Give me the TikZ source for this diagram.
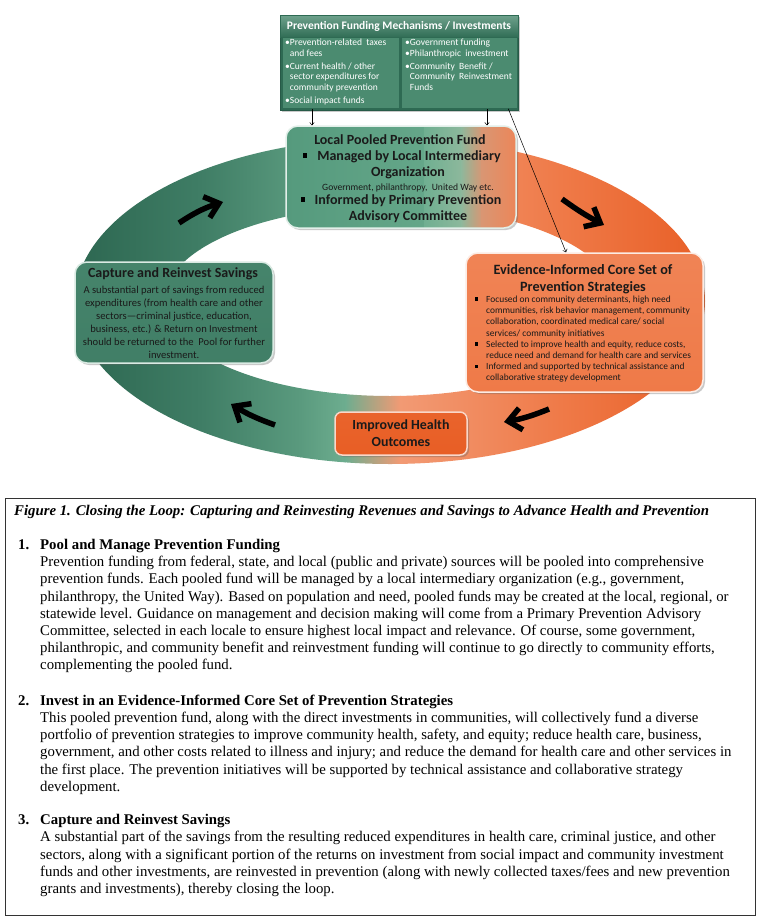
\documentclass[tikz,border=0pt]{standalone}
\usepackage{fontspec}
\setmainfont{Liberation Serif}
\newfontfamily\calib{Carlito}
\usetikzlibrary{arrows.meta,shadows,calc}
\definecolor{gA}{HTML}{2C6650}
\definecolor{gB}{HTML}{3F7D65}
\definecolor{gC}{HTML}{5A9A7E}
\definecolor{gD}{HTML}{6DAD8F}
\definecolor{oA}{HTML}{F29A74}
\definecolor{oB}{HTML}{EF7A48}
\definecolor{oC}{HTML}{E85E25}
\definecolor{pg1}{HTML}{559A7D}
\definecolor{pg2}{HTML}{6FAF91}
\definecolor{pg3}{HTML}{8DB89C}
\definecolor{pg4}{HTML}{D99673}
\definecolor{pg5}{HTML}{EC8659}
\definecolor{topdark}{HTML}{2E6A53}
\definecolor{topcol}{HTML}{4B8B70}
\definecolor{txtdark}{HTML}{1A1A1A}
\newcommand\mkshade[4]{\shade[sharp corners,left color=#3,right color=#4] ($(path picture bounding box.north west)!#1!(path picture bounding box.north east)$) rectangle ($(path picture bounding box.south west)!#2!(path picture bounding box.south east)$);}
\tikzset{
  boxshadow/.style={drop shadow={shadow xshift=2pt,shadow yshift=-2pt,opacity=0.35,fill=black!60}},
  colbox/.style={draw=topdark,line width=0.6pt,fill=topcol,inner sep=0},
  hdrtxt/.style={font=\calib\bfseries\fontsize{11.5}{13}\selectfont,text=white,inner sep=0},
  coltxt/.style={font=\calib\fontsize{9.5}{10.6}\selectfont,text=white,inner sep=0,align=left,anchor=north west},
  pbold/.style={font=\calib\bfseries\fontsize{14}{15}\selectfont,text=txtdark,inner sep=0},
  psmall/.style={font=\calib\fontsize{9.6}{10}\selectfont,text=txtdark,inner sep=0},
  sqbullet/.style={fill=black,minimum size=4.5pt,inner sep=0},
  smbullet/.style={fill=black,minimum size=3.4pt,inner sep=0},
  cbody/.style={font=\calib\fontsize{10.6}{13}\selectfont,text=txtdark,inner sep=0,align=center},
  ebody/.style={font=\calib\fontsize{9.4}{11.2}\selectfont,text=txtdark,inner sep=0,align=left},
  ringarrow/.style={line width=5.5pt,-{Straight Barb[length=13pt,width=22pt]}},
  thinarrow/.style={line width=0.5pt,-{To[length=3pt,width=5pt]}},
  bodyline/.style={anchor=base west,inner sep=0,font=\fontsize{14.8pt}{17.2pt}\selectfont},
  headline/.style={anchor=base west,inner sep=0,font=\bfseries\fontsize{14.8pt}{17.2pt}\selectfont},
}
\begin{document}
\begin{tikzpicture}[x=1pt,y=-1pt]
\useasboundingbox (0,0) rectangle (767,921);
\fill[white] (0,0) rectangle (767,921);

% ---- ring ----
\begin{scope}[even odd rule]
\clip (390,301) ellipse (315pt and 163pt) (390,301) ellipse (226pt and 95pt);
\shade[left color=gA, right color=gB] (70,130) rectangle (200.5,470);
\shade[left color=gB, right color=gC] (200,130) rectangle (300.5,470);
\shade[left color=gC, right color=gD] (300,130) rectangle (345.5,470);
\shade[left color=gD, right color=oA] (345,130) rectangle (400.5,470);
\shade[left color=oA, right color=oB] (400,130) rectangle (560.5,470);
\shade[left color=oB, right color=oC] (560,130) rectangle (710,470);
\end{scope}

% ---- top funding box ----
\node[draw=topdark!85!black,line width=0.8pt,fill=topdark,minimum width=238pt,minimum height=95pt,inner sep=0,boxshadow] (topbox) at (399,62.5) {};
\node[draw=topdark,line width=0.6pt,top color=topcol!80!white,bottom color=topdark!90!topcol,minimum width=238pt,minimum height=22pt,inner sep=0] (hdrbar) at (399,26) {};
\node[hdrtxt] (hdr) at (399,26) {Prevention Funding Mechanisms / Investments};
\node[colbox,minimum width=117pt,minimum height=71pt] (lcol) at (340.5,73) {};
\node[colbox,minimum width=116pt,minimum height=71pt] (rcol) at (459,73) {};
\node[coltxt] (ltxt) at (285,39) {\textbullet Prevention-related\ \ taxes\\\phantom{\textbullet}and fees\\[2.4pt]\textbullet Current health / other\\\phantom{\textbullet}sector expenditures for\\\phantom{\textbullet}community prevention\\[2.4pt]\textbullet Social impact funds};
\node[coltxt] (rtxt) at (405,39) {\textbullet Government funding\\\textbullet Philanthropic\ \ investment\\[2.4pt]\textbullet Community\ \ Benefit /\\\phantom{\textbullet}Community\ \ Reinvestment\\\phantom{\textbullet}Funds};

% ---- pooled fund box ----
\node[draw=white!80!gD,line width=1.5pt,rounded corners=12pt,minimum width=230pt,minimum height=102pt,inner sep=0,boxshadow,
  path picture={\mkshade{0}{0.605}{pg1}{pg2}\mkshade{0.6}{0.765}{pg2}{pg3}\mkshade{0.76}{0.855}{pg3}{pg4}\mkshade{0.85}{1}{pg4}{pg5}}] (pooled) at (401,177) {};
\node[pbold] (pl1) at (400,140) {Local Pooled Prevention Fund};
\node[pbold] (pl2) at (409,157) {Managed by Local Intermediary};
\node[pbold] (pl3) at (408,173) {Organization};
\node[psmall] (pl4) at (408,187.5) {Government,\ philanthropy,\ \ United Way etc.};
\node[pbold] (pl5) at (408,201) {Informed by Primary Prevention};
\node[pbold] (pl6) at (408,217) {Advisory Committee};
\node[sqbullet] (pb1) at (305,155.5) {};
\node[sqbullet] (pb2) at (303,199.5) {};

% ---- capture box ----
\node[draw=white!75!gD,line width=1.5pt,rounded corners=12pt,minimum width=198pt,minimum height=101pt,inner sep=0,boxshadow,
  top color=gB!75!gC,bottom color=gB!95!gC] (capture) at (174,312.5) {};
\node[pbold] (ct) at (173,274) {Capture and Reinvest Savings};
\node[cbody] (cb) at (174,322.5) {A substantial part of savings from reduced\\expenditures (from health care and other\\sectors\textemdash criminal justice, education,\\business, etc.) \& Return on Investment\\should be returned to the\ \ Pool for further\\investment.};

% ---- evidence box ----
\node[draw=white!80!oA,line width=1.5pt,rounded corners=12pt,minimum width=237pt,minimum height=139pt,inner sep=0,boxshadow,
  top color=oB!70!oA,bottom color=oB] (evidence) at (584.5,322.5) {};
\node[pbold,align=center,font=\calib\bfseries\fontsize{14.2}{17}\selectfont] (et) at (583,279) {Evidence-Informed Core Set of\\Prevention Strategies};
\node[ebody,anchor=west] (eb) at (486,339.2) {Focused on community determinants, high need\\communities, risk behavior management, community\\collaboration, coordinated medical care/ social\\services/ community initiatives\\Selected to improve health and equity, reduce costs,\\reduce need and demand for health care and services\\Informed and supported by technical assistance and\\collaborative strategy development};
\node[smbullet] (eb1) at (476.5,299) {};
\node[smbullet] (eb2) at (476.5,343.8) {};
\node[smbullet] (eb3) at (476.5,366.2) {};

% ---- improved box ----
\node[draw=white!75!oC,line width=1.5pt,rounded corners=7pt,minimum width=132pt,minimum height=43pt,inner sep=0,boxshadow,
  top color=oC!80!oB,bottom color=oC,align=center,font=\calib\bfseries\fontsize{13.9}{17}\selectfont,text=txtdark] (improved) at (401,433.5) {Improved Health\\Outcomes};

% ---- connectors from funding box ----
\draw[thinarrow] ([xshift=-28.5pt]lcol.south) -- ([xshift=-28.5pt]lcol.south |- pooled.north);
\draw[thinarrow] ([xshift=28pt]rcol.south) -- ([xshift=28pt]rcol.south |- pooled.north);
\draw[thinarrow] ([xshift=-9pt]rcol.south east) -- ([xshift=-18.5pt]evidence.north);

% ---- ring arrows ----
\coordinate (ra1s) at (179,223); \coordinate (ra1e) at (223,202);
\coordinate (ra2s) at (562,199); \coordinate (ra2e) at (604,225);
\coordinate (ra3s) at (549,409); \coordinate (ra3e) at (504,422);
\coordinate (ra4s) at (275,425); \coordinate (ra4e) at (231,404);
\draw[ringarrow] (ra1s) to[bend left=8] (ra1e);
\draw[ringarrow] (ra2s) to[bend right=4] (ra2e);
\draw[ringarrow] (ra3s) to[bend left=6] (ra3e);
\draw[ringarrow] (ra4s) to[bend left=6] (ra4e);

% ---- lower text box ----
\draw[line width=1pt,draw=black!80] (5,498) rectangle (755,915) node[inner sep=0] (frame) {};
\node[anchor=base west,inner sep=0,font=\bfseries\itshape\fontsize{14.8pt}{17.2pt}\selectfont] (caption) at (14,515) {Figure 1. Closing the Loop: Capturing and Reinvesting Revenues and Savings to Advance Health and Prevention};

\node[headline] (n1) at (18,549.4) {1.};
\node[headline] (h1) at (40,549.4) {Pool and Manage Prevention Funding};
\foreach \ln [count=\k from 0] in {
 {Prevention funding from federal, state, and local (public and private) sources will be pooled into comprehensive},
 {prevention funds. Each pooled fund will be managed by a local intermediary organization (e.g., government,},
 {philanthropy, the United Way). Based on population and need, pooled funds may be created at the local, regional, or},
 {statewide level. Guidance on management and decision making will come from a Primary Prevention Advisory},
 {Committee, selected in each locale to ensure highest local impact and relevance. Of course, some government,},
 {philanthropic, and community benefit and reinvestment funding will continue to go directly to community efforts,},
 {complementing the pooled fund.}}
 \node[bodyline] (pa\k) at (40,{566.6+\k*17.2}) {\ln};

\node[headline] (n2) at (18,705.5) {2.};
\node[headline] (h2) at (40,705.5) {Invest in an Evidence-Informed Core Set of Prevention Strategies};
\foreach \ln [count=\k from 0] in {
 {This pooled prevention fund, along with the direct investments in communities, will collectively fund a diverse},
 {portfolio of prevention strategies to improve community health, safety, and equity; reduce health care, business,},
 {government, and other costs related to illness and injury; and reduce the demand for health care and other services in},
 {the first place. The prevention initiatives will be supported by technical assistance and collaborative strategy},
 {development.}}
 \node[bodyline] (pb\k) at (40,{722.5+\k*17.2}) {\ln};

\node[headline] (n3) at (18,824.6) {3.};
\node[headline] (h3) at (40,824.6) {Capture and Reinvest Savings};
\foreach \ln [count=\k from 0] in {
 {A substantial part of the savings from the resulting reduced expenditures in health care, criminal justice, and other},
 {sectors, along with a significant portion of the returns on investment from social impact and community investment},
 {funds and other investments, are reinvested in prevention (along with newly collected taxes/fees and new prevention},
 {grants and investments), thereby closing the loop.}}
 \node[bodyline] (pc\k) at (40,{841.8+\k*17.2}) {\ln};
\end{tikzpicture}
\end{document}
